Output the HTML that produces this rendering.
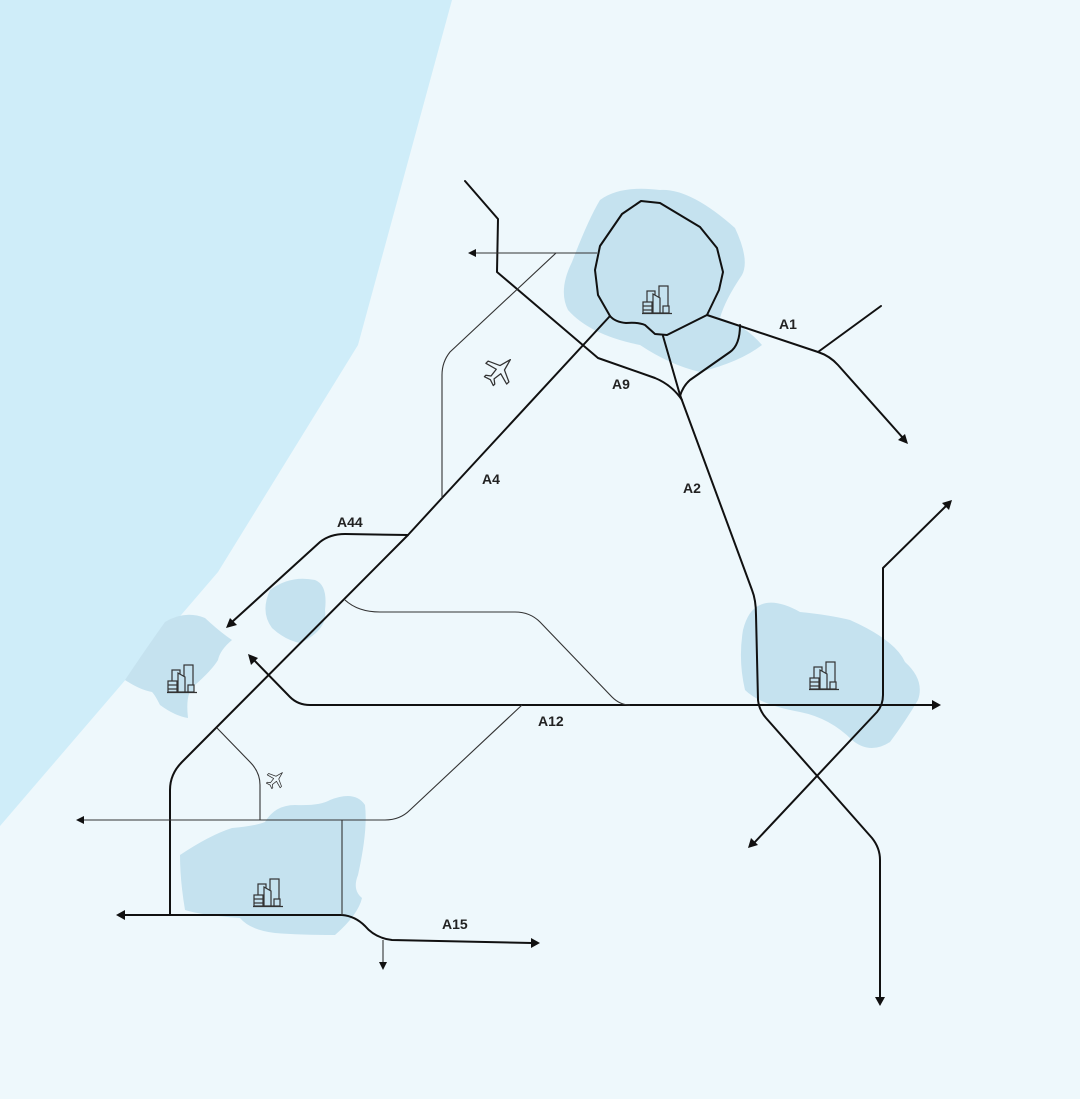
<!DOCTYPE html>
<html><head><meta charset="utf-8"><style>
html,body{margin:0;padding:0;background:#EEF8FC;}
svg{display:block;}
text{font-family:"Liberation Sans",sans-serif;font-size:14px;font-weight:bold;fill:#222;}
</style></head><body>
<svg width="1080" height="1099" viewBox="0 0 1080 1099" xmlns="http://www.w3.org/2000/svg">
<defs>
<marker id="ar" viewBox="0 0 10 10" refX="9" refY="5" markerWidth="5" markerHeight="5" orient="auto-start-reverse" markerUnits="userSpaceOnUse">
</marker>
<g id="bld" fill="none" stroke="#333" stroke-width="1.2">
<rect x="4" y="5" width="8" height="22"/><rect x="16" y="0" width="9" height="27"/><path d="M10 8 L17 12 L17 27 L10 27Z" fill="#C5E2EF"/><rect x="0" y="16" width="9" height="11" fill="#C5E2EF"/><line x1="0" y1="20" x2="9" y2="20"/><line x1="0" y1="24" x2="9" y2="24"/><rect x="20" y="20" width="6" height="7" fill="#C5E2EF"/><line x1="-1" y1="27.5" x2="29" y2="27.5"/>
</g>
<g id="plane" fill="#EEF8FC" stroke="#333" stroke-width="1.2" stroke-linejoin="round">
<path d="M0 -14 L3 -3 L14 2 L14 5 L3 2 L2 10 L6 13 L6 15 L0 13 L-6 15 L-6 13 L-2 10 L-3 2 L-14 5 L-14 2 L-3 -3Z"/>
</g>
</defs>
<rect width="1080" height="1099" fill="#EEF8FC"/>
<polygon points="0,0 452,0 358,345 218,572 0,826" fill="#CFEDF9"/>
<g fill="#C5E2EF">
<path d="M600,200 Q620,185 660,190 Q690,188 735,228 Q750,260 742,275 Q725,300 720,318 Q745,325 762,345 Q740,362 700,372 Q670,365 640,345 Q590,335 568,310 Q558,290 572,262 Q588,220 600,200Z"/>
<path d="M760,605 Q775,598 800,612 Q830,615 850,620 Q895,640 905,662 Q925,680 918,700 Q905,722 890,742 Q870,755 852,740 Q830,718 800,712 Q760,705 745,690 Q738,660 743,630 Q748,610 760,605Z"/>
<path d="M270,590 Q290,575 315,580 Q328,585 325,610 Q328,630 300,643 Q285,640 272,628 Q260,612 270,590Z"/>
<path d="M125,680 Q145,650 165,622 Q185,610 205,618 Q220,632 232,640 Q220,650 218,660 Q212,670 195,685 Q185,692 188,718 Q175,716 160,705 Q155,695 152,692 Q140,690 125,680Z"/>
<path d="M180,855 Q210,835 232,828 Q255,826 265,822 Q275,805 295,805 Q320,806 330,800 Q355,790 365,805 Q368,830 358,875 Q352,890 362,898 Q358,915 335,935 Q300,935 275,933 Q250,930 240,918 Q200,915 185,910 Q180,880 180,855Z"/>
</g>
<g fill="none" stroke="#111" stroke-width="2" stroke-linejoin="round" stroke-linecap="round">
<path d="M610,316 L598,295 L595,270 L600,246 L622,214 L641,201 L660,203 L700,227 L717,248 L723,272 L719,290 L707,315 L667,335 L655,334 L645,325 Q638,322 626,323 Q615,322 610,316Z"/>
<path d="M465,181 L498,219 L497,272 L598,358 L655,378 Q672,385 682,400"/>
<path d="M663,336 L680,395 L752,590 Q756,600 756,615 L758,700 Q759,710 766,718 L872,838 Q880,848 880,860 L880,998"/>
<path d="M707,315 L818,352 Q830,356 838,365 L903,438"/>
<path d="M818,352 L881,306"/>
<path d="M740,325 Q740,345 730,352 L690,380 Q683,386 680,396"/>
<path d="M610,316 L442,498 L408,535 L182,762 Q170,774 170,790 L170,915"/>
<path d="M408,535 L345,534 Q330,534 320,542 L232,622"/>
<path d="M934,705 L310,705 Q298,705 290,697 L253,659"/>
<path d="M122,915 L342,915 Q355,916 365,926 Q375,938 392,940 L532,943"/>
<path d="M754,843 L877,712 Q883,705 883,695 L883,568 L946,506"/>
</g>
<g fill="none" stroke="#333" stroke-width="1.1">
<path d="M474,253 L597,253"/>
<path d="M556,253 L450,352 Q442,362 442,375 L442,498"/>
<path d="M345,600 Q358,612 380,612 L515,612 Q530,612 540,622 L612,697 Q620,705 630,705"/>
<path d="M522,705 L410,810 Q400,820 385,820 L82,820"/>
<path d="M217,728 L250,762 Q260,772 260,785 L260,820"/>
<path d="M342,820 L342,915"/>
<path d="M383,940 L383,964"/>
</g>
<g fill="#111">
<polygon points="468,253 476,249 476,257"/>
<polygon points="76,820 84,816 84,824"/>
<polygon points="383,970 379,962 387,962"/>
<polygon points="116,915 125,910 125,920"/>
<polygon points="540,943 531,938 531,948"/>
<polygon points="941,705 932,700 932,710"/>
<polygon points="880,1006 875,997 885,997"/>
<polygon points="908,444 898,440 905,434"/>
<polygon points="952,500 949,510 942,503"/>
<polygon points="748,848 751,838 758,845"/>
<polygon points="226,628 230,618 237,625"/>
<polygon points="248,654 258,658 251,665"/>
</g>
<use href="#bld" x="643" y="286"/>
<use href="#bld" x="810" y="662"/>
<use href="#bld" x="168" y="665"/>
<use href="#bld" x="254" y="879"/>
<use href="#plane" transform="translate(500,370) rotate(45) scale(1.05)"/>
<use href="#plane" transform="translate(276,779) rotate(45) scale(0.65)"/>
<text x="779" y="329">A1</text>
<text x="612" y="389">A9</text>
<text x="482" y="484">A4</text>
<text x="683" y="493">A2</text>
<text x="337" y="527">A44</text>
<text x="538" y="726">A12</text>
<text x="442" y="929">A15</text>
</svg>
</body></html>
